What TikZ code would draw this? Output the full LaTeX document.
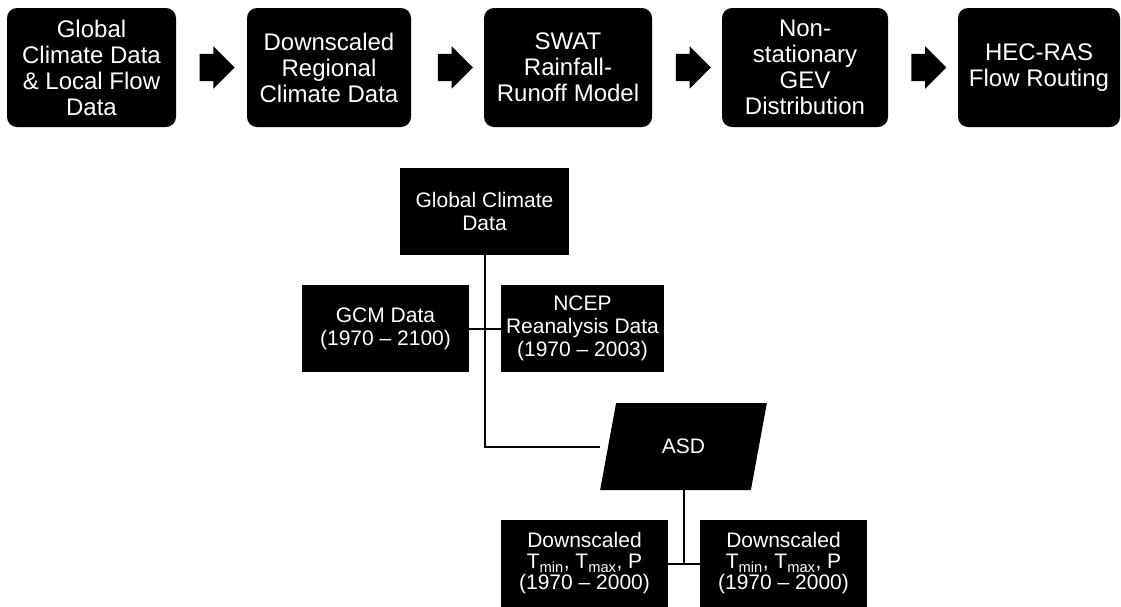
\documentclass[tikz,border=0pt]{standalone}
\usepackage{fontspec}
\setmainfont{Liberation Sans}
\usetikzlibrary{shapes.geometric,shapes.arrows,calc}

\begin{document}
\begin{tikzpicture}[x=1pt,y=-1pt,
  stage/.style={fill=black,rounded corners=10pt,text=white,align=center,inner sep=0pt,
    minimum width=166pt,minimum height=119pt,font=\fontsize{24}{26}\selectfont},
  flowarrow/.style={single arrow,fill=black,inner xsep=0pt,inner ysep=13.5pt,
    minimum height=35pt,single arrow head extend=7.5pt},
  databox/.style={fill=black,text=white,align=center,inner sep=0pt,
    minimum width=167pt,minimum height=87pt,font=\fontsize{21}{23}\selectfont},
  asdbox/.style={trapezium,trapezium left angle=71,trapezium right angle=109,
    trapezium stretches=true,fill=black,text=white,inner sep=0pt,
    minimum width=167pt,minimum height=87pt,font=\fontsize{21}{23}\selectfont},
  link/.style={line width=2pt}]
\useasboundingbox (0,0) rectangle (1121,606);

% modelling chain
\node[stage,minimum width=169pt] (clim) at (91.5,67.5) {Global\\Climate Data\\\& Local Flow\\Data};
\node[stage,minimum width=164pt] (down) at (329,67.5) {Downscaled\\Regional\\Climate Data};
\node[stage,minimum width=168pt] (swat) at (568,67.5) {SWAT\\Rainfall-\\Runoff Model};
\node[stage] (gev) at (805,67.5) {Non-\\stationary\\GEV\\Distribution};
\node[stage,minimum width=162pt] (hec) at (1039,67.5) {HEC-RAS\\Flow Routing};
\foreach \a/\b in {clim/down,down/swat,swat/gev,gev/hec}
  \node[flowarrow] (to-\b) at ($(\a)!0.5!(\b)$) {};

% downscaling tree
\node[databox,minimum width=169pt] (gcd) at (484.5,211) {Global Climate\\Data};
\node[databox] (gcm) at (385.5,328.5) {GCM Data\\(1970 -- 2100)};
\node[databox,minimum width=163pt] (ncep) at (582.5,328.5) {NCEP\\Reanalysis Data\\(1970 -- 2003)};
\node[asdbox] (asd) at (683.5,446.5) {ASD};
\node[databox,font=\fontsize{21}{21}\selectfont] (dsl) at (584.5,563.5)
  {Downscaled\\T\textsubscript{min}, T\textsubscript{max}, P\\(1970 -- 2000)};
\node[databox,font=\fontsize{21}{21}\selectfont] (dsr) at (783.5,563.5)
  {Downscaled\\T\textsubscript{min}, T\textsubscript{max}, P\\(1970 -- 2000)};

\coordinate (bend) at (gcd.south |- asd);
\draw[link] (gcd.south) -- (bend) -- (asd.bottom left corner |- bend);
\draw[link] (gcm.east) -- (ncep.west);
\draw[link] (asd |- asd.south) -- (asd |- dsl.east);
\draw[link] (dsl.east) -- (dsr.west);
\end{tikzpicture}
\end{document}
